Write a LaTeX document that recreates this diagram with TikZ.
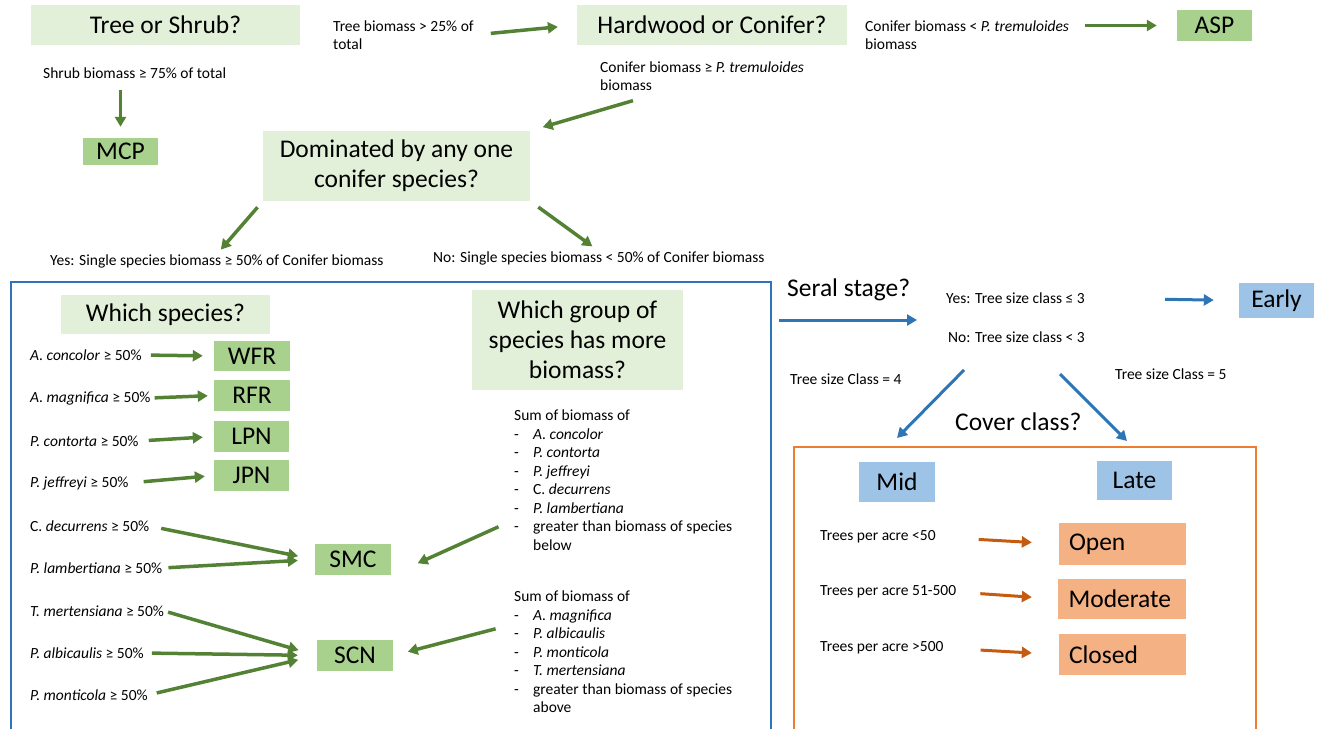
\documentclass[tikz,border=0pt]{standalone}
\usepackage{xcolor}
\usepackage{fontspec}
\setmainfont{Carlito}
\usepackage{tikz}
\usetikzlibrary{arrows.meta}

\definecolor{qgreen}{HTML}{E2F0D9}
\definecolor{cgreen}{HTML}{A9D18E}
\definecolor{agreen}{HTML}{548235}
\definecolor{bfill}{HTML}{9DC3E6}
\definecolor{bline}{HTML}{2E75B6}
\definecolor{ofill}{HTML}{F4B183}
\definecolor{oline}{HTML}{ED7D31}
\definecolor{oarr}{HTML}{C55A11}

\newcommand{\lstdash}{\makebox[19pt][l]{-}}
\newcommand{\ttlfont}{\fontsize{25.5}{30}\selectfont}
\newcommand{\lblfont}{\fontsize{15.5}{18}\selectfont}

\tikzset{
  qbox/.style={fill=qgreen, inner sep=0, align=center, font=\ttlfont},
  cbox/.style={fill=cgreen, inner sep=0, font=\ttlfont},
  sbox/.style={fill=bfill, inner sep=0, font=\ttlfont},
  obox/.style={fill=ofill, inner sep=0, font=\ttlfont, text width=107pt, align=left},
  lbl/.style={inner sep=0, anchor=west, align=left, font=\lblfont},
  lst/.style={inner sep=0, anchor=north west, align=left, font=\fontsize{15.5}{18.5}\selectfont},
  ttl/.style={inner sep=0, anchor=west, font=\ttlfont},
  garrow/.style={draw=agreen, line width=3.5pt, -{Triangle[length=10pt,width=11pt]}},
  barrow/.style={draw=bline, line width=3pt, -{Triangle[length=10pt,width=11pt]}},
  oarrow/.style={draw=oarr, line width=3pt, -{Triangle[length=10pt,width=11pt]}}
}

\begin{document}
\begin{tikzpicture}[x=1pt,y=-1pt]
\useasboundingbox (0,0) rectangle (1319,728);

% frames
\node[draw=bline, line width=1.5pt, minimum width=760pt, minimum height=460pt, inner sep=0] (conif) at (391,512) {};
\node[draw=oline, line width=1.5pt, minimum width=462pt, minimum height=300pt, inner sep=0] (cover) at (1025,597) {};

% top row
\node[qbox, minimum width=269pt, minimum height=40pt] (tos) at (165.5,25) {Tree or Shrub?};
\node[lbl] (tb) at (333,35) {Tree biomass > 25\% of\\total};
\node[qbox, minimum width=270pt, minimum height=40pt] (hw) at (712,25) {Hardwood or Conifer?};
\node[lbl] (cl) at (865,35) {Conifer biomass < \textit{P. tremuloides}\\biomass};
\node[cbox, minimum width=75pt, minimum height=31pt] (asp) at (1214.5,25.5) {ASP};
\node[lbl] (ts) at (43,73) {Shrub biomass ≥ 75\%  of total};
\node[cbox, minimum width=75pt, minimum height=27pt] (mcp) at (120.5,151.5) {MCP};
\node[lbl] (cg) at (600,76) {Conifer biomass ≥ \textit{P. tremuloides}\\biomass};
\node[qbox, minimum width=267pt, minimum height=70pt] (dom) at (396.5,166) {Dominated by any one\\conifer species?};
\node[lbl] (yes) at (50,261) {Yes: Single species biomass ≥ 50\%  of Conifer biomass};
\node[lbl] (no) at (433,258) {No: Single species biomass < 50\%  of Conifer biomass};

\draw[garrow, shorten <=17pt, shorten >=19pt] (tb.east) -- (hw.west);
\draw[garrow, shorten <=16pt, shorten >=20pt] (cl.east |- asp.west) -- (asp.west);
\draw[garrow, shorten <=11pt, shorten >=11pt] (ts.south -| mcp.north) -- (mcp.north);
\draw[garrow, shorten >=13pt] ([xshift=33pt,yshift=-10pt]cg.south west) -- (dom.north east);
\draw[garrow, shorten <=8pt, shorten >=6pt] (dom.south west) -- (yes.north);
\draw[garrow, shorten <=10pt, shorten >=8pt] (dom.south east) -- (no.north);

% single species
\node[qbox, minimum width=209pt, minimum height=39pt] (ws) at (165.5,314.5) {Which species?};
\node[lbl] (acon) at (30,355) {\textit{A. concolor} ≥ 50\%};
\node[lbl] (amag) at (30,398) {\textit{A. magnifica} ≥ 50\%};
\node[lbl] (pcon) at (30,441) {\textit{P. contorta} ≥ 50\%};
\node[lbl] (pjef) at (30,483) {\textit{P. jeffreyi} ≥ 50\%};
\node[lbl] (cdec) at (30,526) {C. \textit{decurrens} ≥ 50\%};
\node[lbl] (plam) at (30,568) {\textit{P. lambertiana} ≥ 50\%};
\node[lbl] (tmer) at (30,611) {\textit{T. mertensiana} ≥ 50\%};
\node[lbl] (palb) at (30,653) {\textit{P. albicaulis} ≥ 50\%};
\node[lbl] (pmon) at (30,695) {\textit{P. monticola} ≥ 50\%};
\node[cbox, minimum width=76pt, minimum height=30pt] (wfr) at (252,356) {WFR};
\node[cbox, minimum width=76pt, minimum height=31pt] (rfr) at (252,395.5) {RFR};
\node[cbox, minimum width=75pt, minimum height=31pt] (lpn) at (251.5,436.5) {LPN};
\node[cbox, minimum width=75pt, minimum height=31pt] (jpn) at (251.5,475.5) {JPN};
\node[cbox, minimum width=76pt, minimum height=31pt] (smc) at (353,559.5) {SMC};
\node[cbox, minimum width=76pt, minimum height=31pt] (scn) at (355,655.5) {SCN};

\draw[garrow, shorten <=9pt, shorten >=11pt] (acon.east) -- (wfr.west);
\draw[garrow, shorten <=4pt, shorten >=6pt] (amag.east) -- (rfr.west);
\draw[garrow, shorten <=10pt, shorten >=11pt] (pcon.east) -- (lpn.west);
\draw[garrow, shorten <=15pt, shorten >=9pt] (pjef.east) -- (jpn.west);
\draw[garrow, shorten <=12pt, shorten >=17pt] (cdec.east) -- (smc.west);
\draw[garrow, shorten <=6pt, shorten >=17pt] (plam.east) -- (smc.west);
\draw[garrow, shorten <=4pt, shorten >=19pt] (tmer.east) -- (scn.west);
\draw[garrow, shorten <=8pt, shorten >=19pt] (palb.east) -- (scn.west);
\draw[garrow, shorten <=9pt, shorten >=19pt] (pmon.east) -- (scn.west);

% species groups
\node[qbox, minimum width=211pt, minimum height=100pt] (wg) at (577.5,340) {Which group of\\species has more\\biomass?};
\node[lst] (sum1) at (514,410) {Sum of biomass of\\
  \lstdash\textit{A. concolor}\\
  \lstdash\textit{P. contorta}\\
  \lstdash\textit{P. jeffreyi}\\
  \lstdash C. \textit{decurrens}\\
  \lstdash\textit{P. lambertiana}\\
  \lstdash greater than biomass of species\\
  \hspace*{19pt}below};
\node[lst] (sum2) at (514,591) {Sum of biomass of\\
  \lstdash\textit{A. magnifica}\\
  \lstdash\textit{P. albicaulis}\\
  \lstdash\textit{P. monticola}\\
  \lstdash\textit{T. mertensiana}\\
  \lstdash greater than biomass of species\\
  \hspace*{19pt}above};

\draw[garrow, shorten <=17pt, shorten >=29pt] ([yshift=31pt]sum1.south west) -- (smc.south east);
\draw[garrow, shorten <=19pt, shorten >=15pt] ([yshift=-33pt]sum2.north west) -- (scn.east);

% seral stage
\node[ttl] (ser) at (787,290) {Seral stage?};
\node[lbl] (yes3) at (946,298) {Yes: Tree size class ≤ 3};
\node[lbl] (no3) at (948,337) {No: Tree size class < 3};
\node[sbox, minimum width=75pt, minimum height=35pt] (early) at (1276.5,300.5) {Early};
\node[lbl] (cls4) at (790,379) {Tree size Class = 4};
\node[lbl] (cls5) at (1115,374) {Tree size Class = 5};
\node[ttl] (cov) at (955,422) {Cover class?};
\node[sbox, minimum width=76pt, minimum height=40pt] (mid) at (897,482) {Mid};
\node[sbox, minimum width=75pt, minimum height=39pt] (late) at (1134.5,480.5) {Late};
\coordinate (sertip) at (917,320);
\coordinate (m4tail) at (964,370);
\coordinate (m4tip) at (897,438);
\coordinate (l5tail) at (1060,374);
\coordinate (l5tip) at (1127,441);

\draw[barrow, shorten <=7pt] (conif.east |- sertip) -- (sertip);
\draw[barrow, shorten <=80pt, shorten >=25pt] (yes3.east) -- (early.west);
\draw[barrow] (m4tail) -- (m4tip);
\draw[barrow] (l5tail) -- (l5tip);

% cover class
\node[lbl] (tpa1) at (820,537) {Trees per acre <50};
\node[lbl] (tpa2) at (820,592) {Trees per acre 51-500};
\node[lbl] (tpa3) at (820,648) {Trees per acre >500};
\node[obox, minimum width=127pt, minimum height=42pt] (open) at (1122.5,544) {Open};
\node[obox, minimum width=128pt, minimum height=40pt] (mod) at (1122,599) {Moderate};
\node[obox, minimum width=127pt, minimum height=41pt] (clo) at (1122.5,654.5) {Closed};

\draw[oarrow, shorten <=43pt, shorten >=27pt] (tpa1.east) -- (open.west);
\draw[oarrow, shorten <=24pt, shorten >=26pt] (tpa2.east) -- (mod.west);
\draw[oarrow, shorten <=37pt, shorten >=27pt] (tpa3.east) -- (clo.west);
\end{tikzpicture}
\end{document}
